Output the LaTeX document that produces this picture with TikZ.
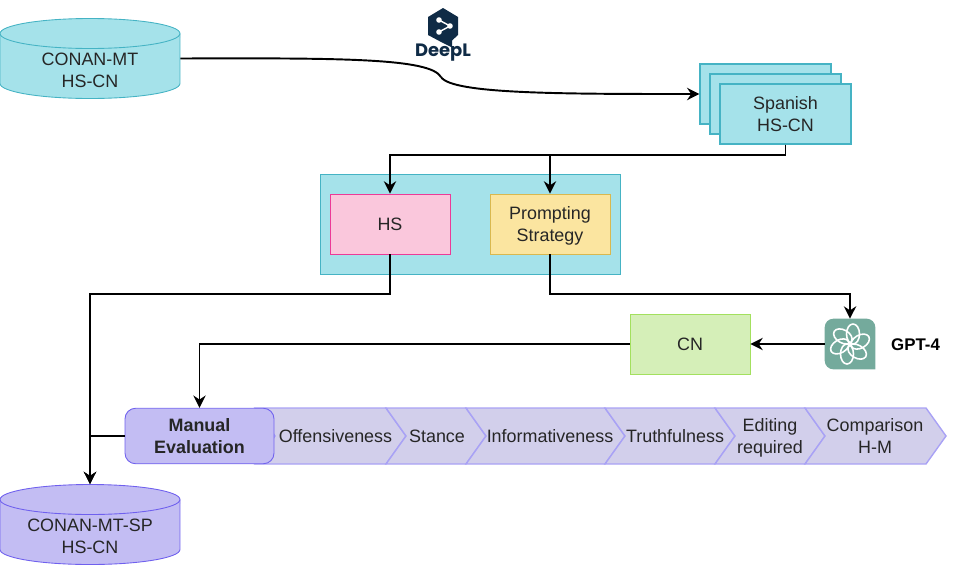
\documentclass[tikz,border=0pt]{standalone}
\usepackage{amsmath}
\usepackage{fontspec}
\setmainfont{Liberation Sans}
\newfontfamily\logofont{Poppins}
\usepackage{xcolor}
\usetikzlibrary{positioning, arrows.meta}
\definecolor{tealfill}{HTML}{A5E2EA}
\definecolor{tealline}{HTML}{45B3C4}
\definecolor{violetfill}{HTML}{C3BDF3}
\definecolor{violetline}{HTML}{6F60EE}
\definecolor{chevfill}{HTML}{D2CFEB}
\definecolor{chevline}{HTML}{A9A2F5}
\definecolor{pinkfill}{HTML}{FAC7DC}
\definecolor{pinkline}{HTML}{EC3A97}
\definecolor{yellowfill}{HTML}{FBE5A0}
\definecolor{yellowline}{HTML}{D9B84F}
\definecolor{greenfill}{HTML}{D5EFB8}
\definecolor{greenline}{HTML}{A3E05E}
\definecolor{deeplblue}{HTML}{0F2B46}
\definecolor{chatgreen}{HTML}{74AA9C}
\tikzset{
  every node/.style={font=\fontsize{10.2}{12.5}\selectfont, align=center, text=black!85, inner sep=0pt},
  dbbox/.style={rectangle, minimum width=3.6cm, minimum height=1.6cm},
  plainbox/.style={rectangle, draw, line width=0.5pt, minimum width=2.4cm, minimum height=1.2cm},
  stackbox/.style={rectangle, draw=tealline, fill=tealfill, line width=0.7pt, minimum width=2.62cm, minimum height=1.2cm},
  chev/.style={draw=chevline, fill=chevfill, line width=0.8pt},
  conn/.style={line width=1.1pt, -{Stealth[length=7pt, width=7pt]}},
  connplain/.style={line width=1.1pt}
}
\begin{document}
\begin{tikzpicture}[x=0.02cm, y=-0.02cm]
  \useasboundingbox (0,0) rectangle (966,565);

  \foreach \nm/\yc/\fl/\ln/\txt in {conanmt/58.5/tealfill/tealline/{CONAN-MT\\HS-CN}, conansp/524.5/violetfill/violetline/{CONAN-MT-SP\\HS-CN}} {
    \draw[draw=\ln, fill=\fl, line width=0.5pt] (0,\yc-25) -- (0,\yc+25) arc[start angle=180, end angle=360, x radius=1.8cm, y radius=0.3cm] -- (180,\yc-25) arc[start angle=0, end angle=180, x radius=1.8cm, y radius=0.3cm] -- cycle;
    \draw[draw=\ln, line width=0.5pt] (0,\yc-25) arc[start angle=180, end angle=360, x radius=1.8cm, y radius=0.3cm];
    \node[dbbox, label={[yshift=-0.24cm]center:\txt}] (\nm) at (90,\yc) {};
  }

  \node[stackbox] (stackback) at (765.5,94) {};
  \node[stackbox] (stackmid) at (775.5,104) {};
  \node[stackbox] (spanish) at (785.5,114) {Spanish\\HS-CN};

  \node[rectangle, draw=tealline, fill=tealfill, line width=0.5pt, minimum width=6cm, minimum height=2cm] (panel) at (470,224) {};
  \node[plainbox, draw=pinkline, fill=pinkfill] (hs) at (390,224) {HS};
  \node[plainbox, draw=yellowline, fill=yellowfill] (prompt) at (550,224) {Prompting\\\smash[b]{Strategy}};
  \node[plainbox, draw=greenline, fill=greenfill] (cn) at (690,344) {CN};

  \foreach \nm/\xa/\xb/\xt/\txt in {offens/255/386/335.5/Offensiveness, stance/386/466/437/Stance, inform/466/605/550/Informativeness, truth/605/715/675/Truthfulness, editing/715/805/770/{Editing\\\smash[b]{required}}, compar/805/926/875/{Comparison\\H-M}} {
    \draw[chev] (\xa,408) -- (\xb,408) -- (\xb+20,436) -- (\xb,464) -- (\xa,464) -- (\xa+20,436) -- cycle;
    \node (\nm) at (\xt,436) {\txt};
  }
  \node[rectangle, rounded corners=6pt, draw=violetline, fill=violetfill, line width=0.5pt, minimum width=2.98cm, minimum height=1.11cm, font=\fontsize{10.2}{12.5}\selectfont\bfseries] (manual) at (199.5,436) {Manual\\Evaluation};

  \node[minimum size=1cm] (gpt) at (850,344) {};
  \fill[chatgreen] (gpt.south east) [rounded corners=5pt] -- (gpt.north east) -- (gpt.north west) -- (gpt.south west) [sharp corners] -- (gpt.south east) -- cycle;
  \foreach \a in {0,60,...,300}
    \draw[white, line width=0.9pt, rotate around={\a:(gpt.center)}] (gpt.center) ++(3,-10) ellipse [x radius=6.5, y radius=10];
  \node[font=\fontsize{9.6}{12}\selectfont\bfseries, text=black] (gptlabel) at (915.5,345) {GPT-4};

  \fill[deeplblue] (443,8) -- (458,17) -- (458,35) -- (452,40.5) -- (452,47.5) -- (443,43) -- (428,35) -- (428,17) -- cycle;
  \draw[white, line width=0.8pt] (439,20) -- (450,26) -- (439,32);
  \fill[white] (439,20) circle (2.8) (450,26) circle (2.8) (439,32) circle (2.8);
  \node[font=\fontsize{10.2}{13}\logofont\bfseries, text=deeplblue] (deepl) at (443,53) {DeepL};

  \coordinate (bend) at (441,77);
  \draw[connplain] (conanmt.east) .. controls (340,58) and (430,58) .. (bend);
  \draw[conn] (bend) .. controls (452,94) and (560,94) .. (stackback.west);
  \draw[conn] (spanish.south) -- ++(0,10) -| (hs.north);
  \draw[conn] (spanish.south) -- ++(0,10) -| (prompt.north);
  \draw[conn] (hs.south) -- ++(0,40) -| (conansp.north);
  \draw[conn] (prompt.south) -- ++(0,40) -| (gpt.north);
  \draw[conn] (gpt.west) -- (cn.east);
  \draw[conn] (cn.west) -| (manual.north);
  \draw[conn] (manual.west) -| (conansp.north);
\end{tikzpicture}
\end{document}
